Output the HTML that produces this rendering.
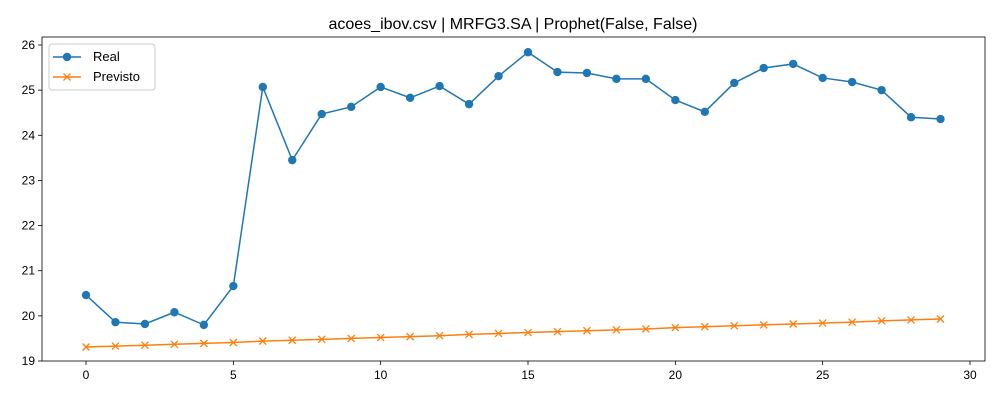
<!DOCTYPE html>
<html><head><meta charset="utf-8"><style>
body{margin:0;background:#fff;}
svg{display:block;font-family:"Liberation Sans","DejaVu Sans",sans-serif;}
</style></head><body>
<svg id="chart" width="1000" height="400"></svg>
<script>
const xs = [...Array(30).keys()];
const realValues = [20.46,19.86,19.82,20.08,19.80,20.66,25.07,23.45,24.47,24.63,25.07,24.83,25.09,24.69,25.31,25.84,25.40,25.38,25.25,25.25,24.78,24.52,25.16,25.49,25.58,25.27,25.18,25.00,24.40,24.36];
const predValues = [19.31,19.33,19.35,19.37,19.39,19.41,19.44,19.46,19.48,19.50,19.52,19.54,19.56,19.59,19.61,19.63,19.65,19.67,19.69,19.71,19.74,19.76,19.78,19.80,19.82,19.84,19.86,19.89,19.91,19.93];
const xTicks = [0,5,10,15,20,25,30];
const yTicks = [19,20,21,22,23,24,25,26];

const L=42,R=985,T=37,B=361;
const xScale=v=>86+v*(970-86)/30;
const yScale=v=>361-(v-19)*(361-45)/7;
const svg=document.getElementById('chart');
const NS='http://www.w3.org/2000/svg';
function mk(tag,attrs,parent){const e=document.createElementNS(NS,tag);for(const k in attrs)e.setAttribute(k,attrs[k]);(parent||svg).appendChild(e);return e;}

const title=mk('text',{x:513,y:29,'text-anchor':'middle','font-size':16,fill:'#000'});
title.textContent='acoes_ibov.csv | MRFG3.SA | Prophet(False, False)';



const xg=mk('g',{});


xTicks.forEach(t=>{const x=xScale(t);mk('line',{x1:x,x2:x,y1:B,y2:B+4,stroke:'#000','stroke-width':0.8},xg);
 const tx=mk('text',{x:x,y:B+18,'text-anchor':'middle','font-size':12},xg);tx.textContent=t;
 
 });
const yg=mk('g',{});


yTicks.forEach(t=>{const y=yScale(t);mk('line',{x1:L-4,x2:L,y1:y,y2:y,stroke:'#000','stroke-width':0.8},yg);
 const tx=mk('text',{x:L-7,y:y+4,'text-anchor':'end','font-size':12},yg);tx.textContent=t;
 
 });

function series(vals,color,marker,name){
 const g=mk('g',{});
 
 
 mk('polyline',{points:vals.map((v,i)=>xScale(xs[i])+','+yScale(v)).join(' '),fill:'none',stroke:color,'stroke-width':1.5},g);
 vals.forEach((v,i)=>{const x=xScale(xs[i]),y=yScale(v);
  if(marker==='o')mk('circle',{cx:x,cy:y,r:4.2,fill:color},g);
  else mk('path',{d:`M${x-3.5},${y-3.5}L${x+3.5},${y+3.5}M${x-3.5},${y+3.5}L${x+3.5},${y-3.5}`,stroke:color,'stroke-width':1.3},g);});
}
series(realValues,'#1f77b4','o','real-series');
series(predValues,'#ff7f0e','x','previsto-series');

const frame=mk('rect',{x:L,y:T,width:R-L,height:B-T,fill:'none',stroke:'#000','stroke-width':0.8});



const lg=mk('g',{});


mk('rect',{x:49,y:44,width:106,height:46,rx:3,fill:'#fff',stroke:'#ccc','stroke-width':1},lg);
mk('line',{x1:53,x2:81,y1:57,y2:57,stroke:'#1f77b4','stroke-width':1.5},lg);
mk('circle',{cx:67,cy:57,r:4.2,fill:'#1f77b4'},lg);
const t1=mk('text',{x:93,y:61,'font-size':13},lg);t1.textContent='Real';


mk('line',{x1:53,x2:81,y1:77,y2:77,stroke:'#ff7f0e','stroke-width':1.5},lg);
mk('path',{d:'M63.5,73.5L70.5,80.5M63.5,80.5L70.5,73.5',stroke:'#ff7f0e','stroke-width':1.3},lg);
const t2=mk('text',{x:93,y:81,'font-size':13},lg);t2.textContent='Previsto';


</script>
</body></html>
